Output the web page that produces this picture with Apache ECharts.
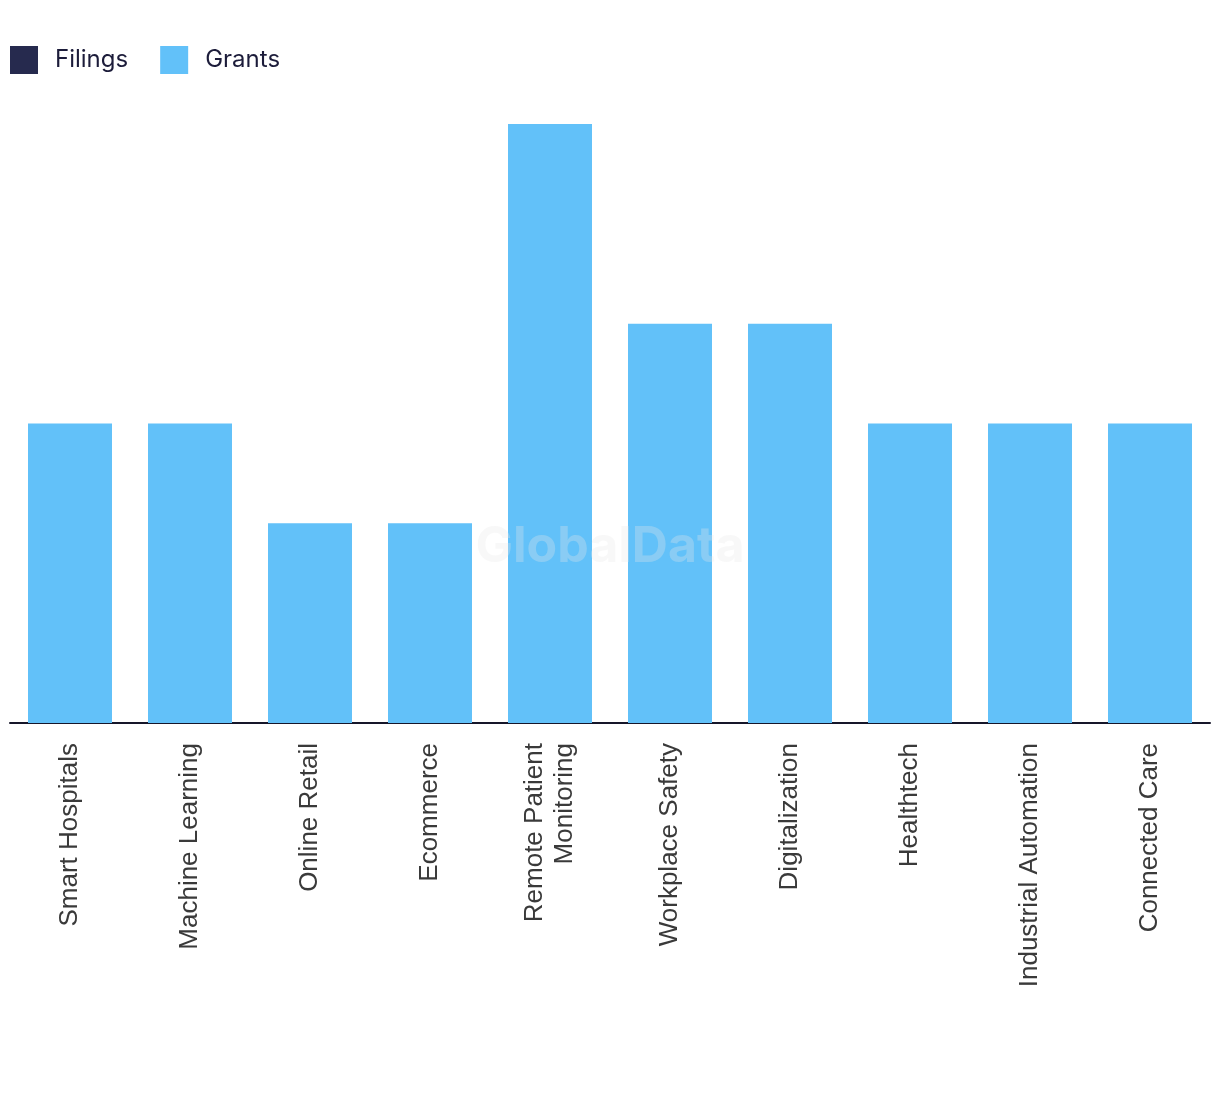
<!DOCTYPE html>
<html>
<head>
<meta charset="utf-8">
<script src="https://cdn.jsdelivr.net/npm/echarts@6/dist/echarts.min.js"></script>
<style>html,body{margin:0;padding:0;background:#fff}#c{width:1220px;height:1094px}</style>
</head>
<body>
<div id="c"></div>
<script>
var categories = ["Smart Hospitals","Machine Learning","Online Retail","Ecommerce","Remote Patient\nMonitoring","Workplace Safety","Digitalization","Healthtech","Industrial Automation","Connected Care"];
var filings = [0,0,0,0,0,0,0,0,0,0];
var grants = [3,3,2,2,6,4,4,3,3,3];

var chart = echarts.init(document.getElementById('c'));
chart.setOption({
  animation: false,
  backgroundColor: '#ffffff',
  legend: {
    left: 10, top: 46, padding: 0,
    itemWidth: 28, itemHeight: 28, itemGap: 32,
    icon: 'rect',
    textStyle: { fontFamily: 'Inter', fontSize: 24, color: '#1c1c3a', padding: [0,0,0,12] },
    data: ['Filings','Grants']
  },
  graphic: [{
    type: 'text', left: 'center', top: 522, z: 100,
    style: { text: 'GlobalData', font: 'bold 50px Inter', fill: 'rgba(232,232,232,0.3)' }
  }],
  grid: { left: 10, right: 10, top: 124, bottom: 371, containLabel: false },
  xAxis: {
    type: 'category', data: categories,
    axisLine: { lineStyle: { color: '#16162a', width: 2 } },
    axisTick: { show: false },
    axisLabel: { rotate: 90, margin: 20, fontFamily: 'Liberation Sans', fontSize: 26, color: '#3a3a3a', lineHeight: 30, interval: 0 }
  },
  yAxis: { type: 'value', min: 0, max: 6, show: false, splitLine: { show: false } },
  series: [
    { name: 'Filings', type: 'bar', stack: 's', data: filings, barWidth: '70%', itemStyle: { color: '#262a4e' } },
    { name: 'Grants', type: 'bar', stack: 's', data: grants, barWidth: '70%', itemStyle: { color: '#62c1f9' } }
  ]
});
</script>
</body>
</html>
